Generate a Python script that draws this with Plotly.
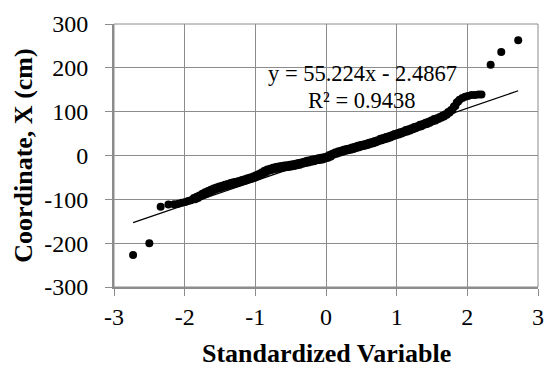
import plotly.graph_objects as go

# Standardized variable (normal scores) and coordinate X (cm)
std_var = [
    -2.73, -2.50, -2.34, -2.23, -2.15, -2.09, -2.04, -1.99, -1.95, -1.91,
    -1.87, -1.85, -1.83, -1.81, -1.79, -1.77, -1.75, -1.73, -1.71, -1.69,
    -1.67, -1.65, -1.63, -1.61, -1.59, -1.57, -1.55, -1.53, -1.51, -1.49,
    -1.47, -1.45, -1.43, -1.41, -1.39, -1.37, -1.35, -1.33, -1.31, -1.29,
    -1.27, -1.25, -1.23, -1.21, -1.19, -1.17, -1.15, -1.13, -1.11, -1.09,
    -1.07, -1.05, -1.03, -1.01, -0.99, -0.97, -0.95, -0.93, -0.91, -0.89,
    -0.87, -0.85, -0.83, -0.81, -0.79, -0.77, -0.75, -0.73, -0.71, -0.69,
    -0.67, -0.65, -0.63, -0.61, -0.59, -0.57, -0.55, -0.53, -0.51, -0.49,
    -0.47, -0.45, -0.43, -0.41, -0.39, -0.37, -0.35, -0.33, -0.31, -0.29,
    -0.27, -0.25, -0.23, -0.21, -0.19, -0.17, -0.15, -0.13, -0.11, -0.09,
    -0.07, -0.05, -0.03, -0.01, 0.01, 0.03, 0.05, 0.07, 0.09, 0.11,
    0.13, 0.15, 0.17, 0.19, 0.21, 0.23, 0.25, 0.27, 0.29, 0.31,
    0.33, 0.35, 0.37, 0.39, 0.41, 0.43, 0.45, 0.47, 0.49, 0.51,
    0.53, 0.55, 0.57, 0.59, 0.61, 0.63, 0.65, 0.67, 0.69, 0.71,
    0.73, 0.75, 0.77, 0.79, 0.81, 0.83, 0.85, 0.87, 0.89, 0.91,
    0.93, 0.95, 0.97, 0.99, 1.01, 1.03, 1.05, 1.07, 1.09, 1.11,
    1.13, 1.15, 1.17, 1.19, 1.21, 1.23, 1.25, 1.27, 1.29, 1.31,
    1.33, 1.35, 1.37, 1.39, 1.41, 1.43, 1.45, 1.47, 1.49, 1.51,
    1.53, 1.55, 1.57, 1.59, 1.61, 1.63, 1.65, 1.67, 1.69, 1.71,
    1.73, 1.75, 1.77, 1.79, 1.81, 1.83, 1.85, 1.87,
    1.89, 1.93, 1.97, 2.01, 2.06, 2.11, 2.16, 2.20, 2.33, 2.48, 2.72,
]
coord_x = [
    -227, -200, -117, -112, -111, -110, -108, -106, -104, -102,
    -97, -100, -94, -97, -91, -93, -87, -90, -84, -87,
    -81, -84, -78, -81, -75, -78, -73, -76, -71, -74,
    -69, -72, -67, -70, -65, -68, -63, -66, -61, -65,
    -60, -63, -58, -61, -56, -59, -54, -57, -52, -55,
    -50, -53, -48, -51, -45, -48, -42, -45, -39, -41,
    -35, -38, -32, -35, -30, -33, -28, -31, -26, -30,
    -25, -29, -24, -28, -23, -27, -22, -26, -21, -25,
    -20, -24, -19, -22, -17, -21, -16, -19, -14, -17,
    -12, -16, -11, -14, -9, -13, -8, -11, -6, -10,
    -5, -9, -4, -7, -2, -5, 1, -2, 4, 2,
    7, 4, 9, 6, 11, 8, 13, 10, 15, 12,
    16, 13, 18, 15, 20, 17, 22, 19, 24, 21,
    25, 22, 27, 24, 29, 26, 31, 28, 33, 30,
    35, 33, 38, 35, 40, 37, 42, 39, 44, 41,
    46, 44, 49, 46, 51, 48, 53, 50, 55, 53,
    58, 55, 60, 57, 62, 60, 65, 62, 67, 65,
    70, 67, 72, 70, 75, 72, 77, 75, 80, 78,
    83, 80, 85, 83, 88, 86, 91, 89, 94, 93,
    99, 98, 104, 104, 112, 113, 121, 123,
    127, 131, 134, 136, 138, 138, 139, 139, 207, 236, 263,
]
assert len(std_var) == len(coord_x)

# Linear trend line shown on the chart
slope = 55.224
intercept = -2.4867
r_squared = 0.9438

x_ticks = [-3, -2, -1, 0, 1, 2, 3]
y_ticks = [-300, -200, -100, 0, 100, 200, 300]

FONT = "Liberation Serif"
GRID = "#8c8c8c"

x_min, x_max = min(std_var), max(std_var)
trend_x = [x_min, x_max]
trend_y = [slope * v + intercept for v in trend_x]

fig = go.Figure()
fig.add_trace(go.Scatter(
    x=std_var, y=coord_x, mode="markers",
    marker=dict(color="black", size=8, line=dict(width=0)),
    showlegend=False, hoverinfo="skip",
))
fig.add_trace(go.Scatter(
    x=trend_x, y=trend_y, mode="lines",
    line=dict(color="black", width=1.3),
    showlegend=False, hoverinfo="skip",
))

plot_l, plot_r, plot_t, plot_b = 114, 555 - 11, 19, 369 - 82
def px_to_paper(px, py):
    return (px - plot_l) / (plot_r - plot_l), (plot_b - py) / (plot_b - plot_t)

eq_x, eq_y = px_to_paper(366, 55)
r2_x, r2_y = px_to_paper(366, 82)
xt_x, xt_y = px_to_paper(329, 355)
yt_x, yt_y = px_to_paper(22, 153)

fig.update_layout(
    width=555, height=369,
    margin=dict(l=plot_l, r=555 - plot_r, t=plot_t, b=369 - plot_b),
    paper_bgcolor="white", plot_bgcolor="white",
    font=dict(family=FONT, color="black", size=22),
    xaxis=dict(
        range=[-3, 3], tickvals=x_ticks, ticktext=[str(v) for v in x_ticks],
        showgrid=True, gridcolor=GRID, gridwidth=1,
        zeroline=False, showline=True, linecolor=GRID, linewidth=2,
        ticks="outside", ticklen=7, tickcolor=GRID, tickwidth=1,
        tickfont=dict(family=FONT, size=24, color="black"),
    ),
    yaxis=dict(
        range=[-300, 300], tickvals=y_ticks, ticktext=[str(v) for v in y_ticks],
        showgrid=True, gridcolor=GRID, gridwidth=1,
        zeroline=False, showline=True, linecolor=GRID, linewidth=2,
        ticks="outside", ticklen=7, tickcolor=GRID, tickwidth=1,
        tickfont=dict(family=FONT, size=24, color="black"),
        ticklabelstandoff=12,
    ),
    shapes=[dict(type="rect", xref="paper", yref="paper", x0=0, x1=1, y0=0, y1=1,
                 line=dict(color=GRID, width=1), layer="below")],
    annotations=[
        dict(text=f"y = {slope}x - {abs(intercept)}", x=eq_x, y=eq_y, xref="paper", yref="paper",
             showarrow=False, font=dict(family=FONT, size=22.5, color="black")),
        dict(text=f"R² = {r_squared}", x=r2_x, y=r2_y, xref="paper", yref="paper",
             showarrow=False, font=dict(family=FONT, size=22.5, color="black")),
        dict(text="<b>Standardized Variable</b>", x=xt_x, y=xt_y, xref="paper", yref="paper",
             xanchor="center", yanchor="middle", showarrow=False,
             font=dict(family=FONT, size=26, color="black")),
        dict(text="<b>Coordinate, X (cm)</b>", x=yt_x, y=yt_y, xref="paper", yref="paper",
             xanchor="center", yanchor="middle", textangle=-90, showarrow=False,
             font=dict(family=FONT, size=26, color="black")),
    ],
)

fig.write_html("out.html")
